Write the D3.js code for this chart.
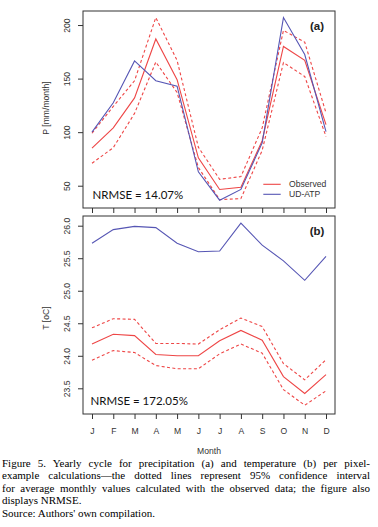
<!DOCTYPE html>
<html>
<head>
<meta charset="utf-8">
<script src="https://cdn.jsdelivr.net/npm/d3@7"></script>
<style>
  body { margin: 0; background: #fff; }
  #wrap { position: relative; width: 378px; height: 527px; overflow: hidden; }
  svg { position: absolute; left: 0; top: 0; }
  #caption { position: absolute; left: 2px; top: 457px; width: 368px;
    font-family: "Liberation Serif", "Times New Roman", serif; font-size: 11px;
    line-height: 12.4px; color: #000; }
  #caption .j { text-align: justify; text-align-last: justify; white-space: nowrap; }
  #caption .l { text-align: left; white-space: nowrap; }
</style>
</head>
<body>
<div id="wrap">
  <svg id="chart" width="378" height="527"></svg>
  <div id="caption">
    <div class="j">Figure 5. Yearly cycle for precipitation (a) and temperature (b) per pixel-</div>
    <div class="j">example calculations—the dotted lines represent 95% confidence interval</div>
    <div class="j">for average monthly values calculated with the observed data; the figure also</div>
    <div class="l">displays NRMSE.</div>
    <div class="l">Source: Authors' own compilation.</div>
  </div>
</div>
<script>
const months = ["J", "F", "M", "A", "M", "J", "J", "A", "S", "O", "N", "D"];

// (a) precipitation, mm/month
const precipObserved = [85, 104, 132, 187, 149, 76, 46.5, 48.5, 92, 180, 167, 107];
const precipUpper    = [99, 124, 148, 207, 167, 86, 56, 58.5, 104, 195, 184, 118];
const precipLower    = [71, 85.5, 117.5, 165.5, 137, 67, 37, 38, 83, 165, 152, 96];
const precipUDATP    = [100, 127.5, 166.5, 148, 143, 63, 36.5, 46.5, 90, 207, 172.5, 100.5];
const precipTicks    = [50, 100, 150, 200];

// (b) temperature, oC
const tempObserved = [24.18, 24.33, 24.31, 24.02, 24.00, 24.00, 24.23, 24.39, 24.24, 23.68, 23.42, 23.71];
const tempUpper    = [24.43, 24.57, 24.56, 24.19, 24.19, 24.18, 24.40, 24.58, 24.45, 23.88, 23.63, 23.94];
const tempLower    = [23.93, 24.08, 24.05, 23.85, 23.80, 23.80, 24.03, 24.18, 24.04, 23.48, 23.24, 23.46];
const tempUDATP    = [25.73, 25.94, 25.99, 25.97, 25.73, 25.60, 25.61, 26.04, 25.70, 25.46, 25.16, 25.53];
const tempTicks    = [23.5, 24.0, 24.5, 25.0, 25.5, 26.0];

const RED = "#ee4646", BLUE = "#5656b4", INK = "#333";
const FONT = "'Liberation Sans', Arial, sans-serif";

const svg = d3.select("#chart");
const L = 83, R = 335;
const idx = d3.range(months.length);
const x = d3.scalePoint().domain(idx).range([92, 326]);

function panel(o) {
  const y = d3.scaleLinear().domain(o.domain).range([o.bottom, o.top]);
  const g = svg.append("g");

  const line = d3.line().x((d, i) => x(i)).y(d => y(d));
  [
    { v: o.upper, c: RED, dash: "3,2.4" },
    { v: o.lower, c: RED, dash: "3,2.4" },
    { v: o.observed, c: RED, dash: null },
    { v: o.model, c: BLUE, dash: null }
  ].forEach(s => {
    g.append("path").datum(s.v)
      .attr("d", line).attr("fill", "none")
      .attr("stroke", s.c).attr("stroke-width", 1.1)
      .attr("stroke-dasharray", s.dash);
  });

  // box
  g.append("rect")
    .attr("x", L).attr("y", o.top)
    .attr("width", R - L).attr("height", o.bottom - o.top)
    .attr("fill", "none").attr("stroke", INK).attr("stroke-width", 1);

  // y axis
  const ya = g.append("g").attr("transform", `translate(${L},0)`)
    .call(d3.axisLeft(y).tickValues(o.ticks).tickSize(5).tickPadding(0).tickFormat(o.fmt));
  ya.select(".domain").remove();
  ya.selectAll(".tick line").attr("stroke", INK);
  ya.selectAll(".tick text")
    .attr("transform", "translate(-16,0) rotate(-90)")
    .attr("x", 0).attr("dy", "0.35em")
    .attr("text-anchor", "middle")
    .style("font-family", FONT).style("font-size", "8.6px").style("fill", INK);

  // x axis
  const xa = g.append("g").attr("transform", `translate(0,${o.bottom})`)
    .call(d3.axisBottom(x).tickSize(5).tickPadding(9).tickFormat(i => months[i]));
  xa.select(".domain").remove();
  xa.selectAll(".tick line").attr("stroke", INK);
  xa.selectAll(".tick text")
    .style("font-family", FONT).style("font-size", "8.6px").style("fill", INK)
    .style("display", o.xLabels ? null : "none");

  // axis title
  g.append("text")
    .attr("transform", `translate(49,${o.titleY}) rotate(-90)`)
    .attr("text-anchor", "middle")
    .style("font-family", FONT).style("font-size", "8.6px").style("fill", INK)
    .text(o.title);

  // panel tag
  g.append("text")
    .attr("x", 317).attr("y", o.top + 18.5)
    .attr("text-anchor", "middle")
    .style("font-family", FONT).style("font-size", "11.5px").style("font-weight", "bold")
    .style("fill", "#222")
    .text(o.tag);

  // NRMSE
  g.append("text")
    .attr("x", o.nrmseX).attr("y", o.bottom - 8.6)
    .style("font-family", "Lato, 'Open Sans', sans-serif").style("font-size", "11.5px")
    .style("fill", "#111")
    .text(o.nrmse);

  return y;
}

panel({
  top: 11, bottom: 208, domain: [29.2, 213.1],
  upper: precipUpper, lower: precipLower, observed: precipObserved, model: precipUDATP,
  ticks: precipTicks, fmt: d3.format("d"),
  title: "P [mm/month]", titleY: 108, tag: "(a)",
  nrmse: "NRMSE = 14.07%", nrmseX: 92.5, xLabels: false
});

panel({
  top: 216, bottom: 414, domain: [23.105, 26.149],
  upper: tempUpper, lower: tempLower, observed: tempObserved, model: tempUDATP,
  ticks: tempTicks, fmt: d3.format(".1f"),
  title: "T [oC]", titleY: 318, tag: "(b)",
  nrmse: "NRMSE = 172.05%", nrmseX: 90.5, xLabels: true
});

// legend
const legend = [{ name: "Observed", c: RED }, { name: "UD-ATP", c: BLUE }];
legend.forEach((d, i) => {
  const ly = 184.3 + i * 10;
  svg.append("line")
    .attr("x1", 263.3).attr("x2", 280.7).attr("y1", ly).attr("y2", ly)
    .attr("stroke", d.c).attr("stroke-width", 1.1);
  svg.append("text")
    .attr("x", 289).attr("y", ly).attr("dy", "0.35em")
    .style("font-family", FONT).style("font-size", "8.6px").style("fill", INK)
    .text(d.name);
});

// x title
svg.append("text")
  .attr("x", (L + R) / 2).attr("y", 454)
  .attr("text-anchor", "middle")
  .style("font-family", FONT).style("font-size", "8.6px").style("fill", INK)
  .text("Month");
</script>
</body>
</html>
